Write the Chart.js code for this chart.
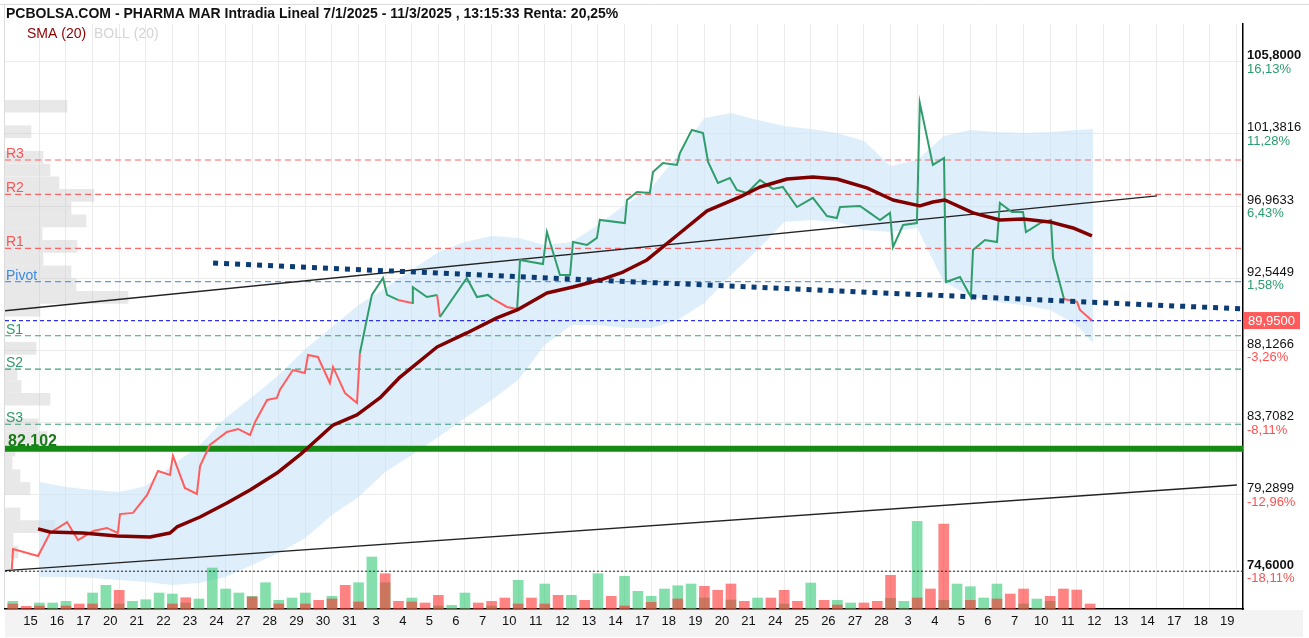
<!DOCTYPE html>
<html><head><meta charset="utf-8">
<script src="https://cdn.jsdelivr.net/npm/chart.js@4.4.1/dist/chart.umd.min.js"></script>
<style>html,body{margin:0;padding:0;background:#fff;overflow:hidden}#wrap{width:1309px;height:638px;position:relative}</style>
</head><body><div id="wrap"><canvas id="c" width="1309" height="638"></canvas></div>
<script>
// ---------------- DATA ----------------
const dayLabels = ['15','16','17','20','21','22','23','24','27','28','29','30','31','3','4','5','6','7','10','11','12','13','14','17','18','19','20','21','24','25','26','27','28','3','4','5','6','7','10','11','12','13','14','17','18','19'];

const priceT = [-1.04,-0.99,-0.05,0.40,1.04,1.45,2.02,2.54,2.95,3.03,3.52,4.05,4.46,4.91,5.02,5.47,5.92,6.04,6.41,7.05,7.47,7.92,8.11,8.56,8.93,9.04,9.53,9.98,10.10,10.47,10.92,11.04,11.49,11.94,12.05,12.50,12.92,13.07,13.48,14.01,14.04,14.57,14.95,15.06,16.07,16.45,16.86,17.05,17.58,17.96,18.07,18.93,19.08,19.57,19.95,20.06,20.59,20.96,21.07,22.01,22.09,22.47,22.95,23.07,23.44,23.97,24.08,24.53,24.95,25.14,25.51,25.96,26.22,26.60,27.09,27.58,27.95,28.48,29.08,29.61,29.98,30.10,30.85,31.22,31.60,31.98,32.09,32.47,32.99,33.10,33.59,34.01,34.08,34.61,35.02,35.10,35.55,36.00,36.11,36.56,36.98,37.09,37.62,38.03,38.11,38.52,39.01,39.12,39.57];
const priceVal = [74.68,75.96,75.53,76.94,77.61,76.51,77.06,77.25,76.94,78.10,78.17,79.27,80.74,80.49,81.66,79.70,79.33,81.04,82.33,83.13,83.31,82.94,83.74,85.09,85.21,85.70,86.92,86.74,87.84,87.72,86.13,87.11,85.51,84.90,87.96,91.52,92.56,91.52,91.21,91.03,92.00,91.39,91.52,90.17,92.56,91.39,91.52,91.27,90.78,90.66,93.66,93.41,95.37,92.74,92.74,94.76,94.58,95.01,96.11,95.92,97.33,97.82,97.76,99.05,99.60,99.48,100.21,101.62,101.43,99.66,98.37,98.68,97.95,97.76,98.56,98.01,98.13,96.90,97.46,96.35,96.23,96.90,96.97,96.54,96.11,96.54,94.45,95.80,95.92,103.27,99.48,99.90,92.31,92.62,91.39,94.27,94.88,94.76,97.15,96.60,96.60,95.37,95.92,96.11,93.78,91.27,91.09,90.60,89.95];
const refPrice = 91.1;

const smaT = [-0.05,0.40,1.64,2.92,4.16,4.91,5.17,6.04,7.05,7.92,8.93,9.79,11.04,11.94,12.80,13.56,14.95,16.07,17.20,17.96,19.08,20.06,21.07,21.94,22.84,24.08,25.10,26.34,27.09,28.11,29.08,29.98,31.11,32.09,33.10,33.59,34.04,35.10,36.11,36.98,37.99,38.86,39.57];
const smaVal = [77.19,77.00,76.94,76.76,76.70,76.94,77.31,77.92,78.78,79.57,80.61,81.72,83.55,84.17,85.21,86.49,88.33,89.19,90.11,90.60,91.64,92.00,92.43,92.92,93.66,95.31,96.66,97.52,98.13,98.62,98.74,98.62,98.07,97.33,96.97,97.21,97.33,96.54,96.11,96.17,95.99,95.62,95.13];

const bandT = [0,1,2,3,4,5,6,7,8,9,10,11,12,13,14,15,16,17,18,19,20,21,22,23,24,25,26,27,28,29,30,31,32,33,34,35,36,37,38,39,39.61];
const bandUpper = [80.06,79.76,79.57,79.45,79.82,81.10,82.27,83.98,85.27,86.62,88.21,89.56,90.90,91.94,93.05,94.15,94.76,95.13,95.01,94.58,94.76,95.80,97.03,98.07,100.09,102.35,102.66,102.23,101.86,101.68,101.44,100.95,99.41,99.78,101.25,101.62,101.50,101.44,101.50,101.62,101.68];
const bandLower = [74.25,74.25,74.18,74.06,73.94,73.76,73.88,74.25,74.98,75.72,76.63,78.04,79.15,80.68,81.72,82.82,83.98,85.09,86.31,88.45,89.68,89.68,89.49,89.49,89.98,91.03,92.74,94.27,95.99,96.11,95.99,95.50,95.37,95.62,92.31,91.45,91.09,90.90,90.60,89.68,88.58];

const volT = [-1,-0.5,0,0.5,1,1.5,2,2.5,3,3.5,4,4.5,5,5.5,6,6.5,7,7.5,8,8.5,9,9.5,10,10.5,11,11.5,12,12.5,13,13.5,14,14.5,15,15.5,16,16.5,17,17.5,18,18.5,19,19.5,20,20.5,21,21.5,22,22.5,23,23.5,24,24.5,25,25.5,26,26.5,27,27.5,28,28.5,29,29.5,30,30.5,31,31.5,32,32.5,33,33.5,34,34.5,35,35.5,36,36.5,37,37.5,38,38.5,39,39.5];
const volUp = [7.7,0,6,6,7.7,0,16,23.7,5,7.7, 9.3,16,15,6,10,41,20,16,12.7,26.3, 8.7,11,16,0,12.7,0,26.3,52,26.3,0, 11,0,3,3.7,16,0,3,0,28.7,0, 25,0,13.7,0,35.3,0,32.7,17.7,12.7,20, 23.3,25,11,0,9,0,11,0,5,0, 26,0,8.7,6,0,0,10.7,7.7,87.7,0, 8.7,25,22.3,11,25,0,5,10,7.7,0, 0,0];
const volDown = [5,2.7,3,0,3,5,5,0,18.7,0, 0,0,5,11.3,0,0,0,0,12,0, 5,0,5,8.7,10,23.7,7,0,35.3,7.7, 7,6,13.7,0,0,6,7.7,11,5,11, 5,13.7,0,8.7,0,12.7,3,0,6.7,0, 10,0,22.7,18.7,25,7.7,0,11,18.7,7.7, 0,8.7,4,0,6,7.7,33.7,0,11,20, 85,0,8.7,0,10,15,20,0,12.7,20, 19,5];

const profileLevels = [103.07,101.51,99.95,99.17,98.39,97.61,96.83,96.05,95.27,94.49,93.71,92.93,92.15,91.37,90.59,88.25,86.69,85.91,85.13,83.57,82.79,82.01,81.23,80.45,79.67,78.11,77.33,76.55,75.77,74.99];
const profileVol = [62,26,38,45,54,89,66,81,37,72,38,66,71,123,35,31,12,16,45,33,42,10,7,15,25,15,50,8,13,5];

const levelNames = ['R3','R2','R1','Pivot','S1','S2','S3'];
const levelValues = [99.78,97.68,94.37,92.33,89.02,86.97,83.60];
const supportLevel = 82.102;
const lastPrice = 89.95;
const minPrice = 74.6;

const trendUpperT = [-1.29, 42.02], trendUpperP = [90.55, 97.58];
const trendLowerT = [-1.29, 45.02], trendLowerP = [74.64, 79.88];
const trendDotT = [6.53, 45.25], trendDotP = [93.47, 90.66];

const tickValues = [105.8, 101.3816, 96.9633, 92.5449, 88.1266, 83.7082, 79.2899, 74.6];
const tickPct = ['16,13%','11,28%','6,43%','1,58%','-3,26%','-8,11%','-12,96%','-18,11%'];

const titleText = 'PCBOLSA.COM - PHARMA MAR Intradia Lineal 7/1/2025 - 11/3/2025 , 13:15:33 Renta: 20,25%';

// ---------------- CHART ----------------
const FONT = "'Liberation Sans', Arial, Helvetica, sans-serif";
Chart.defaults.font.family = FONT;
const xMin = -1.293, xMax = 45.25;
const priceMin = 72.286, priceMax = 108.109;
const pts = (t, v) => t.map((x, i) => ({x, y: v[i]}));
const hLine = v => [{x: xMin, y: v}, {x: xMax, y: v}];
const GREEN = '#2f9d6c', RED = '#ff5e5e';
const levelColor = n => n[0] === 'R' ? '#ff5252' : (n[0] === 'S' ? '#2e9a6a' : '#3c8ae0');
const levelLineColor = n => n[0] === 'R' ? 'rgba(255,85,85,0.9)' : (n[0] === 'S' ? 'rgba(46,150,105,0.9)' : 'rgba(80,150,235,0.95)');
const fmt = (v, d) => v.toFixed(d).replace('.', ',');

const lineBase = {type: 'line', xAxisID: 'x', yAxisID: 'y', pointRadius: 0, tension: 0, fill: false};

const datasets = [
  {type: 'bar', indexAxis: 'y', xAxisID: 'xProf', yAxisID: 'y', data: pts(profileVol, profileLevels),
   backgroundColor: 'rgba(200,200,200,0.42)', barThickness: 12, grouped: false, order: 100},
  {...lineBase, data: pts(bandT, bandUpper), borderWidth: 0, fill: '+1', backgroundColor: 'rgba(200,228,248,0.6)', order: 90},
  {...lineBase, data: pts(bandT, bandLower), borderWidth: 0, order: 90},
  {type: 'bar', xAxisID: 'x', yAxisID: 'yVol', data: pts(volT, volUp), backgroundColor: 'rgba(52,202,117,0.6)', barThickness: 10, grouped: false, order: 80},
  {type: 'bar', xAxisID: 'x', yAxisID: 'yVol', data: pts(volT, volDown), backgroundColor: 'rgba(255,42,42,0.58)', barThickness: 10, grouped: false, order: 79},
  ...levelNames.map((n, i) => ({...lineBase, data: hLine(levelValues[i]), borderColor: levelLineColor(n), borderWidth: 1.2, borderDash: [6, 4], order: 70})),
  {...lineBase, data: hLine(lastPrice), borderColor: '#3030f0', borderWidth: 1.2, borderDash: [4, 3], order: 70},
  {...lineBase, data: hLine(minPrice), borderColor: '#222', borderWidth: 1, borderDash: [2, 2], order: 70},
  {...lineBase, data: hLine(supportLevel), borderColor: '#158a15', borderWidth: 6, order: 60},
  {...lineBase, data: pts(trendUpperT, trendUpperP), borderColor: '#222', borderWidth: 1.3, order: 55},
  {...lineBase, data: pts(trendLowerT, trendLowerP), borderColor: '#222', borderWidth: 1.3, order: 55},
  {...lineBase, data: pts(priceT, priceVal), borderWidth: 2, borderColor: GREEN,
   segment: {borderColor: ctx => ctx.p1.parsed.y >= refPrice ? GREEN : RED}, order: 30},
  {...lineBase, data: pts(trendDotT, trendDotP), borderColor: '#0c3c74', borderWidth: 5, borderDash: [5, 6], borderCapStyle: 'butt', order: 25},
  {...lineBase, data: pts(smaT, smaVal), borderColor: '#800000', borderWidth: 3.5, borderJoinStyle: 'round', order: 20},
];

const overlay = {
  id: 'overlay',
  beforeDraw(c) {
    const g = c.ctx, a = c.chartArea; g.save();
    g.fillStyle = '#fff'; g.fillRect(0, 0, c.width, c.height);
    g.fillStyle = '#f3f3f3'; g.fillRect(5, a.bottom + 1, 1298, 27);
    g.strokeStyle = '#dcdcdc'; g.lineWidth = 1;
    g.beginPath(); g.moveTo(0, 4.5); g.lineTo(c.width, 4.5);
    g.moveTo(4.5, 4.5); g.lineTo(4.5, a.bottom); g.stroke();
    g.restore();
  },
  afterDatasetsDraw(c) {
    const g = c.ctx, ys = c.scales.y, a = c.chartArea; g.save();
    g.textBaseline = 'alphabetic'; g.font = '14px ' + FONT;
    levelNames.forEach((n, i) => { g.fillStyle = levelColor(n); g.fillText(n, a.left + 1, ys.getPixelForValue(levelValues[i]) - 2); });
    g.font = 'bold 16px ' + FONT; g.fillStyle = '#1a7a1a';
    g.fillText(fmt(supportLevel, 3), a.left + 3, ys.getPixelForValue(supportLevel) - 3);
    g.font = '14px ' + FONT; g.textBaseline = 'middle';
    g.fillStyle = '#8b0000'; g.fillText('SMA (20)', 27, 34);
    g.fillStyle = '#d4d4d4'; g.fillText('BOLL (20)', 94, 34);
    g.restore();
  },
  afterDraw(c) {
    const g = c.ctx, ys = c.scales.y; g.save();
    g.textBaseline = 'middle'; g.fillStyle = '#111'; g.font = 'bold 14px ' + FONT;
    g.fillText(titleText, 6, 14);
    tickValues.forEach((v, i) => {
      const yy = ys.getPixelForValue(v);
      const bold = (i === 0 || i === tickValues.length - 1);
      g.font = (bold ? 'bold ' : '') + '13px ' + FONT; g.fillStyle = '#111';
      g.fillText(fmt(v, 4), 1247, yy - 6);
      g.font = '13px ' + FONT; g.fillStyle = tickPct[i][0] === '-' ? '#ff5050' : '#2a9d6f';
      g.fillText(tickPct[i], 1247, yy + 7.5);
    });
    const py = ys.getPixelForValue(lastPrice);
    g.fillStyle = '#ff5b5b'; g.fillRect(1244, py - 8.5, 56, 17);
    g.fillStyle = '#fff'; g.font = '13px ' + FONT; g.fillText(fmt(lastPrice, 4), 1248, py + 0.5);
    g.restore();
  }
};

new Chart(document.getElementById('c'), {
  type: 'line',
  data: {datasets},
  options: {
    responsive: false, animation: false, devicePixelRatio: 1,
    layout: {padding: {left: 5, right: 66, top: 24, bottom: 0}},
    plugins: {legend: {display: false}, tooltip: {enabled: false}},
    scales: {
      x: {type: 'linear', min: xMin, max: xMax, offset: false,
          afterBuildTicks: s => { s.ticks = dayLabels.map((_, i) => ({value: i})); },
          afterFit: s => { s.height = 29; s.paddingLeft = 0; s.paddingRight = 0; },
          ticks: {autoSkip: false, maxRotation: 0, labelOffset: -9, padding: 5, color: '#111', font: {size: 13},
                  callback: v => dayLabels[v]},
          grid: {color: '#ebebeb', drawTicks: false, offset: false}, border: {display: true, color: '#000', width: 1.5}},
      y: {type: 'linear', position: 'right', min: priceMin, max: priceMax, offset: false,
          afterBuildTicks: s => { s.ticks = tickValues.map(v => ({value: v})); },
          afterFit: s => { s.width = 0; },
          ticks: {display: false}, grid: {color: '#ebebeb', drawTicks: false, offset: false}, border: {display: true, color: '#000', width: 1.5}},
      yVol: {type: 'linear', display: false, min: 0, max: 585, offset: false},
      xProf: {type: 'linear', display: false, min: 0, max: 1238, offset: false}
    }
  },
  plugins: [overlay]
});
</script></body></html>
